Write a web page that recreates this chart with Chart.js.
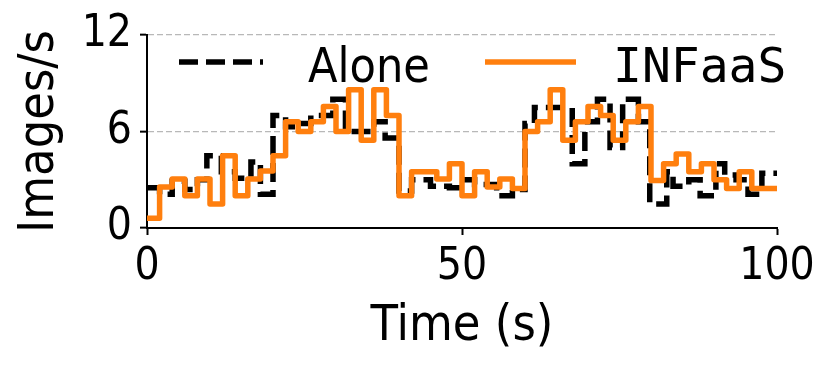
<!DOCTYPE html>
<html>
<head>
<meta charset="utf-8">
<script src="https://cdn.jsdelivr.net/npm/chart.js@4/dist/chart.umd.min.js"></script>
<style>
  html, body { margin: 0; padding: 0; background: #fff; }
  #chart { display: block; }
</style>
</head>
<body>
<canvas id="chart" width="831" height="371"></canvas>
<script>
// INFaaS: one value every 2 s, held until the next step
const infaasTimes = [0, 2, 4, 6, 8, 10, 12, 14, 16, 18, 20, 22, 24, 26, 28, 30, 32, 34, 36, 38,
    40, 42, 44, 46, 48, 50, 52, 54, 56, 58, 60, 62, 64, 66, 68, 70, 72, 74, 76, 78,
    80, 82, 84, 86, 88, 90, 92, 94, 96, 100];
const infaasRates = [0.6, 2.55, 3.05, 2.0, 3.05, 1.5, 4.5, 2.0, 3.05, 3.55, 4.5, 6.6, 6.0, 6.6, 7.55, 6.0, 8.6, 5.45, 8.6, 7.0,
    2.0, 3.5, 3.5, 3.05, 4.0, 2.0, 3.5, 2.55, 3.05, 2.45, 6.0, 6.6, 8.6, 5.45, 6.6, 7.55, 7.0, 5.45, 6.6, 7.55,
    2.96, 4.0, 4.6, 3.5, 4.0, 3.0, 2.45, 3.5, 2.45, 2.45];

// Alone: steps are not quite on the 2 s grid
const aloneTimes = [0, 2, 4, 6, 8, 9.5, 11.8, 14, 16.5, 18, 20, 22, 24, 26, 29.5, 31.5, 34, 36, 37.8,
    40, 42, 45, 48, 50.3, 52, 55.5, 58, 60, 61.5, 63.5, 67.5, 69.5, 71.5, 73.5, 75.5, 78, 79.8,
    82.5, 83.5, 86, 87.8, 90.3, 91.7, 93.5, 95.4, 97.6, 100];
const aloneRates = [2.5, 2.1, 2.9, 2.4, 3.0, 4.5, 3.5, 3.1, 4.1, 2.1, 7.0, 6.3, 6.5, 7.0, 8.0, 6.0, 6.0, 6.6, 5.6,
    2.3, 3.0, 2.6, 2.5, 3.0, 2.7, 2.0, 2.4, 6.5, 7.5, 7.5, 4.0, 6.6, 8.0, 5.0, 8.0, 6.6, 1.5,
    3.5, 2.6, 3.0, 2.0, 4.0, 3.3, 3.0, 2.1, 3.4, 3.4];

const xTicks = [0, 50, 100];
const yTicks = [0, 6, 12];

const orange = '#ff7f0e';
const dashPattern = [19, 8];
const lineW = 5.5;

function toPoints(times, rates) {
    return times.map((t, i) => ({ x: t, y: rates[i] }));
}

// Legend drawn inside the plot, like matplotlib's upper legend
const inlineLegend = {
    id: 'inlineLegend',
    afterDatasetsDraw(chart) {
        const ctx = chart.ctx;
        const a = chart.chartArea;
        const y = a.top + 27;
        ctx.save();
        ctx.lineWidth = lineW;
        ctx.strokeStyle = '#000';
        ctx.setLineDash(dashPattern);
        ctx.beginPath();
        ctx.moveTo(a.left + 32, y);
        ctx.lineTo(a.left + 116, y);
        ctx.stroke();
        ctx.setLineDash([]);
        ctx.strokeStyle = orange;
        ctx.beginPath();
        ctx.moveTo(a.left + 338, y);
        ctx.lineTo(a.left + 429, y);
        ctx.stroke();
        ctx.fillStyle = '#000';
        ctx.textBaseline = 'alphabetic';
        ctx.font = '48px "DejaVu Sans Condensed", "DejaVu Sans"';
        ctx.fillText('Alone', a.left + 161, a.top + 47);
        ctx.font = '48px "DejaVu Sans Mono"';
        ctx.fillText('INFaaS', a.left + 466, a.top + 47);
        ctx.restore();
    }
};

const ctx = document.getElementById('chart').getContext('2d');
const chart = new Chart(ctx, {
    type: 'line',
    data: {
        datasets: [
            {
                label: 'INFaaS',
                data: toPoints(infaasTimes, infaasRates),
                borderColor: orange,
                borderWidth: lineW,
                borderJoinStyle: 'round',
                stepped: true,
                pointRadius: 0,
                fill: false,
                order: 0
            },
            {
                label: 'Alone',
                data: toPoints(aloneTimes, aloneRates),
                borderColor: '#000',
                borderWidth: lineW,
                borderDash: dashPattern,
                stepped: true,
                pointRadius: 0,
                fill: false,
                order: 1
            }
        ]
    },
    options: {
        responsive: false,
        animation: false,
        layout: {
            padding: { top: 35, right: 54, left: 0, bottom: 0 }
        },
        plugins: {
            legend: { display: false },
            tooltip: { enabled: false }
        },
        scales: {
            x: {
                type: 'linear',
                min: 0,
                max: 100,
                afterBuildTicks: (scale) => { scale.ticks = xTicks.map(v => ({ value: v })); },
                afterFit: (scale) => { scale.height = 143; },
                ticks: {
                    color: '#000',
                    padding: 6,
                    maxRotation: 0,
                    font: { family: '"DejaVu Sans Condensed", "DejaVu Sans"', size: 44 }
                },
                grid: {
                    drawOnChartArea: false,
                    drawTicks: true,
                    tickLength: 7,
                    tickColor: '#000',
                    tickWidth: 2
                },
                border: { display: true, color: '#000', width: 2 },
                title: {
                    display: true,
                    text: 'Time (s)',
                    color: '#000',
                    padding: { top: 0, bottom: 14 },
                    font: { family: '"DejaVu Sans Condensed", "DejaVu Sans"', size: 50 }
                }
            },
            y: {
                min: 0,
                max: 12,
                afterBuildTicks: (scale) => { scale.ticks = yTicks.map(v => ({ value: v })); },
                afterFit: (scale) => { scale.width = 147; },
                ticks: {
                    color: '#000',
                    padding: 8,
                    font: { family: '"DejaVu Sans Condensed", "DejaVu Sans"', size: 44 }
                },
                grid: {
                    color: (c) => c.tick && c.tick.value === 0 ? 'rgba(0,0,0,0)' : '#b8b8b8',
                    lineWidth: 1.3,
                    drawTicks: true,
                    tickLength: 7,
                    tickColor: '#000',
                    tickWidth: 2,
                    tickBorderDash: []
                },
                border: { display: true, color: '#000', width: 2, dash: [6, 3] },
                title: {
                    display: true,
                    text: 'Images/s',
                    color: '#000',
                    padding: { top: 10, bottom: 0 },
                    font: { family: '"DejaVu Sans Condensed", "DejaVu Sans"', size: 50 }
                }
            }
        }
    },
    plugins: [inlineLegend]
});
</script>
</body>
</html>
